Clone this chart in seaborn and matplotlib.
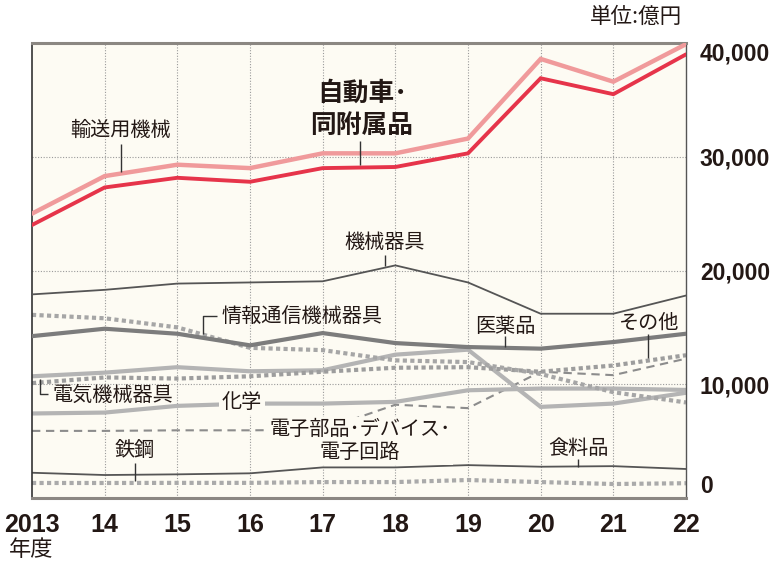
import matplotlib
matplotlib.use("Agg")
import matplotlib.pyplot as plt
import seaborn as sns
import pandas as pd

sns.set_theme(style="white")
plt.rcParams['font.family'] = ['Noto Sans CJK JP', 'DejaVu Sans']

years = [2013, 2014, 2015, 2016, 2017, 2018, 2019, 2020, 2021, 2022]
year_labels = ["2013", "14", "15", "16", "17", "18", "19", "20", "21", "22"]
y_ticks = [0, 10000, 20000, 30000, 40000]
y_labels = ["0", "10,000", "20,000", "30,000", "40,000"]

transport = [25000, 28300, 29300, 29000, 30300, 30300, 31600, 38600, 36600, 39900]
auto = [24000, 27300, 28150, 27800, 29000, 29100, 30300, 36900, 35500, 39000]
machinery = [17900, 18300, 18850, 18950, 19050, 20450, 18950, 16200, 16200, 17800]
pharma = [14230, 14880, 14440, 13420, 14500, 13620, 13270, 13130, 13710, 14440]
ict = [16100, 15800, 15000, 13200, 13000, 12100, 11950, 10900, 9300, 8400]
other = [10100, 10600, 10500, 10700, 11100, 11450, 11500, 11100, 11650, 12550]
electric = [10700, 11020, 11500, 11140, 11230, 12600, 13040, 8010, 8300, 9250]
chemical = [7430, 7510, 8100, 8300, 8300, 8450, 9470, 9620, 9620, 9500]
electronic = [5900, 5900, 5950, 5950, 6000, 8200, 7900, 11100, 10800, 12250]
food = [2220, 2020, 2080, 2170, 2690, 2690, 2890, 2750, 2800, 2550]
steel = [1320, 1320, 1330, 1330, 1400, 1400, 1580, 1400, 1230, 1300]

BG = "#fdfbf3"
fig = plt.figure(figsize=(7.77, 5.67), dpi=100)
ax = fig.add_axes([32/777, 1-498/567, (686-32)/777, (498-43)/567])
ax.set_facecolor(BG)

dot = (0, (1, 0.8))
series = [
    (steel, "#aaaaaa", 3.0, dot, 2),
    (food, "#555555", 1.3, "-", 2),
    (electronic, "#8c8c8c", 1.5, (0, (4, 2.7)), 2),
    (chemical, "#b4b4b4", 3.0, "-", 2),
    (electric, "#b4b4b4", 3.0, "-", 2),
    (other, "#9d9d9d", 3.0, dot, 2),
    (ict, "#a6a6a6", 3.0, dot, 2),
    (pharma, "#7c7c7c", 3.0, "-", 3),
    (machinery, "#555555", 1.3, "-", 3),
    (transport, "#f09a9b", 3.2, "-", 4),
    (auto, "#e6344a", 2.8, "-", 5),
]
for vals, col, lw, ls, z in series:
    df = pd.DataFrame({"year": years, "value": vals})
    sns.lineplot(data=df, x="year", y="value", ax=ax, color=col, linewidth=lw,
                 linestyle=ls, zorder=z, dash_capstyle="butt", solid_joinstyle="miter")

ax.set_xlim(2013, 2022)
ax.set_ylim(0, 40000)
ax.set_xlabel("")
ax.set_ylabel("")
ax.set_xticks(years)
ax.set_xticklabels(year_labels, fontfamily=['Liberation Sans Narrow', 'Liberation Sans'],
                   fontweight='bold', fontsize=18, color="#231815")
ax.yaxis.tick_right()
ax.set_yticks(y_ticks)
ax.set_yticklabels(y_labels, fontfamily=['Liberation Sans'], fontweight='bold',
                   fontsize=16.5, color="#231815", ha='left')
ax.tick_params(axis='x', length=0, pad=11)
ax.tick_params(axis='y', length=0, pad=10)
labs = ax.get_yticklabels()
labs[0].set_va('bottom')
labs[-1].set_va('top')

for yv in [10000, 20000, 30000]:
    ax.axhline(yv, color="#9a9a9a", lw=0.8, ls=(0, (1, 1.5)), zorder=1)
for xv in years[1:-1]:
    ax.axvline(xv, color="#9a9a9a", lw=0.8, ls=(0, (1, 1.5)), zorder=1)

for s in ["top", "bottom"]:
    ax.spines[s].set_color("#8b8782")
    ax.spines[s].set_linewidth(2.2)
ax.spines["left"].set_color("#333333")
ax.spines["left"].set_linewidth(1.2)
ax.spines["right"].set_color("#555555")
ax.spines["right"].set_linewidth(1.0)


def P(px, py):
    return (2013 + (px - 32) / (654 / 9), (498 - py) * 40000 / 455)


TXT = "#231815"
LFS = 14.5


def label(px, py, s, **kw):
    x, y = P(px, py)
    opts = dict(ha='center', va='center', fontsize=LFS, color=TXT, zorder=10)
    opts.update(kw)
    ax.text(x, y, s, **opts)


def leader(pts):
    xs, ys = zip(*[P(a, b) for a, b in pts])
    ax.plot(xs, ys, color="#333333", lw=1.0, zorder=9, solid_capstyle='butt')


label(121, 130, "輸送用機械")
leader([(121, 144), (121, 172)])
label(362, 109, "自動車･\n同附属品", fontsize=18.5, fontweight='bold', linespacing=1.25)
leader([(360, 141), (360, 165)])
label(385, 243, "機械器具")
leader([(385, 255), (385, 266)])
label(302, 316, "情報通信機械器具")
leader([(217, 316), (203, 316), (203, 334)])
label(113, 395, "電気機械器具")
leader([(40, 379), (40, 394), (48, 394)])
label(242, 402, "化学", bbox=dict(boxstyle='square,pad=0.12', fc=BG, ec='none'))
label(360, 441, "電子部品･デバイス･\n電子回路", linespacing=1.1, multialignment='center',
      bbox=dict(boxstyle='square,pad=0.1', fc=BG, ec='none'))
label(135, 450, "鉄鋼")
leader([(135, 463), (135, 481)])
label(505, 326, "医薬品")
leader([(505, 336), (505, 347)])
label(649, 323, "その他")
leader([(648, 334), (648, 358)])
label(578, 448, "食料品")
leader([(578, 459), (578, 467)])

fig.text(636/777, 1 - 17/567, "単位:億円", ha='center', va='center', fontsize=15.5, color=TXT)
fig.text(31/777, 1 - 550/567, "年度", ha='center', va='center', fontsize=16, color=TXT)

fig.savefig("out.png", dpi=100, facecolor="white")
